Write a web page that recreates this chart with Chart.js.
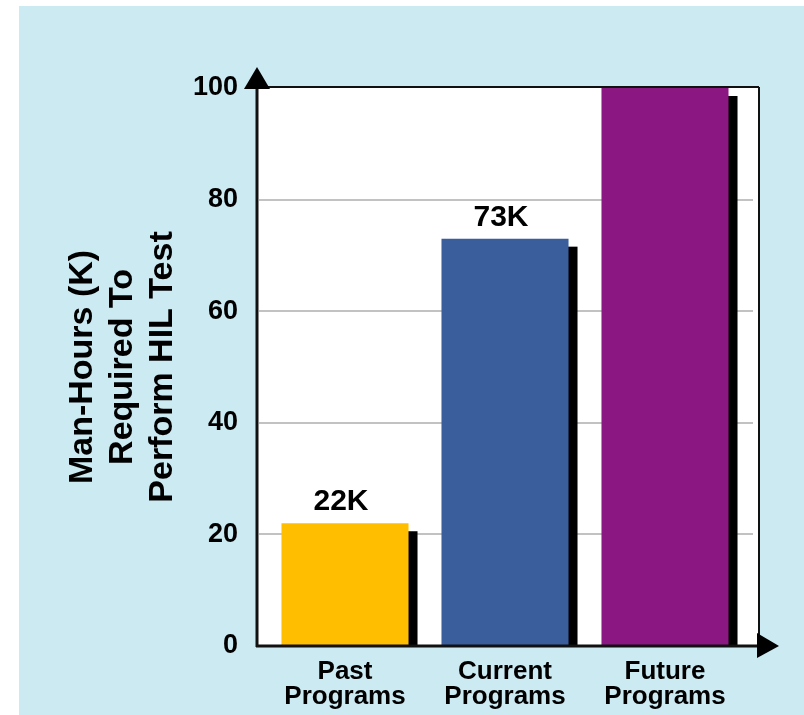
<!DOCTYPE html>
<html>
<head>
<meta charset="utf-8">
<script src="https://cdn.jsdelivr.net/npm/chart.js@4/dist/chart.umd.min.js"></script>
<style>
  body { margin: 0; background: #fff; }
  #wrap { width: 804px; height: 715px; }
</style>
</head>
<body>
<div id="wrap"><canvas id="chart" width="804" height="715"></canvas></div>
<script>
const categories = [['Past', 'Programs'], ['Current', 'Programs'], ['Future', 'Programs']];
const manHours = [22, 73, 100];
const valueLabels = ['22K', '73K', ''];
const barColors = ['#ffbf00', '#3a5e9c', '#8b1882'];
const yTickValues = [0, 20, 40, 60, 80, 100];
const yTitle = ['Man-Hours (K)', 'Required To', 'Perform HIL Test'];

Chart.defaults.font.family = '"Liberation Sans", Arial, sans-serif';
Chart.defaults.color = '#000';

// background, plot box, grid, shadows, axes with arrows, value labels
const decor = {
  id: 'decor',
  beforeDraw(chart) {
    const {ctx, chartArea: a, scales: {y}} = chart;
    const L = a.left - 8, R = a.right + 14;
    ctx.save();
    ctx.fillStyle = '#fff';
    ctx.fillRect(0, 0, chart.width, chart.height);
    ctx.fillStyle = '#cbeaf2';
    ctx.fillRect(19, 6, chart.width - 19, chart.height - 6);
    ctx.fillStyle = '#fff';
    ctx.fillRect(L, a.top - 1, R - L, a.bottom - a.top + 1);
    ctx.strokeStyle = '#c2c2c2';
    ctx.lineWidth = 2;
    y.ticks.forEach(t => {
      if (t.value === 0 || t.value === 100) return;
      const py = Math.round(y.getPixelForValue(t.value));
      ctx.beginPath();
      ctx.moveTo(L + 2, py);
      ctx.lineTo(R - 6, py);
      ctx.stroke();
    });
    ctx.restore();
  },
  beforeDatasetsDraw(chart) {
    const {ctx, chartArea: a} = chart;
    ctx.save();
    ctx.beginPath();
    ctx.rect(a.left - 8, a.top + 3, a.right - a.left + 22, a.bottom - a.top - 3);
    ctx.clip();
    ctx.fillStyle = '#000';
    chart.getDatasetMeta(0).data.forEach(b => {
      ctx.fillRect(b.x - b.width / 2 + 9, b.y + 8, b.width, b.base - b.y);
    });
    ctx.restore();
  },
  afterDatasetsDraw(chart) {
    const {ctx, chartArea: a} = chart;
    const ax = a.left - 8, ay = a.bottom, R = a.right + 14;
    ctx.save();
    ctx.strokeStyle = '#111';
    ctx.lineWidth = 2;
    ctx.beginPath();
    ctx.moveTo(ax, a.top - 1);
    ctx.lineTo(R, a.top - 1);
    ctx.moveTo(R, a.top - 1);
    ctx.lineTo(R, ay);
    ctx.stroke();
    ctx.lineWidth = 3;
    ctx.beginPath();
    ctx.moveTo(ax, a.top);
    ctx.lineTo(ax, ay + 1);
    ctx.moveTo(ax - 1, ay);
    ctx.lineTo(R + 4, ay);
    ctx.stroke();
    ctx.fillStyle = '#000';
    ctx.beginPath();
    ctx.moveTo(ax - 13, a.top + 1);
    ctx.lineTo(ax + 13, a.top + 1);
    ctx.lineTo(ax, a.top - 21);
    ctx.closePath();
    ctx.fill();
    ctx.beginPath();
    ctx.moveTo(R - 2, ay - 13);
    ctx.lineTo(R - 2, ay + 12);
    ctx.lineTo(R + 20, ay);
    ctx.closePath();
    ctx.fill();

    ctx.font = 'bold 30px "Liberation Sans", Arial, sans-serif';
    ctx.textAlign = 'center';
    ctx.textBaseline = 'alphabetic';
    chart.getDatasetMeta(0).data.forEach((b, i) => {
      if (valueLabels[i]) ctx.fillText(valueLabels[i], b.x - 4, b.y - 13);
    });
    ctx.restore();
  }
};

new Chart(document.getElementById('chart'), {
  type: 'bar',
  data: {
    labels: categories,
    datasets: [{
      data: manHours,
      backgroundColor: barColors,
      borderWidth: 0,
      barPercentage: 0.794,
      categoryPercentage: 1
    }]
  },
  options: {
    responsive: false,
    animation: false,
    devicePixelRatio: 1,
    layout: { padding: { top: 88, right: 59, bottom: 0, left: 0 } },
    plugins: { legend: { display: false }, tooltip: { enabled: false } },
    scales: {
      x: {
        grid: { display: false },
        border: { display: false },
        ticks: {
          padding: 5,
          font: { size: 26, weight: 'bold', lineHeight: 0.97 },
          color: '#000'
        },
        afterFit(s) { s.height = 69; }
      },
      y: {
        min: 0,
        max: 100,
        afterBuildTicks(s) { s.ticks = yTickValues.map(v => ({ value: v })); },
        grid: { display: false },
        border: { display: false },
        ticks: {
          padding: 19,
          font: { size: 27, weight: 'bold' },
          color: '#000'
        },
        title: {
          display: true,
          text: yTitle,
          color: '#000',
          font: { size: 34, weight: 'bold', lineHeight: '40px' },
          padding: { top: 63, bottom: 0 }
        },
        afterFit(s) { s.width = 265; }
      }
    }
  },
  plugins: [decor]
});
</script>
</body>
</html>
